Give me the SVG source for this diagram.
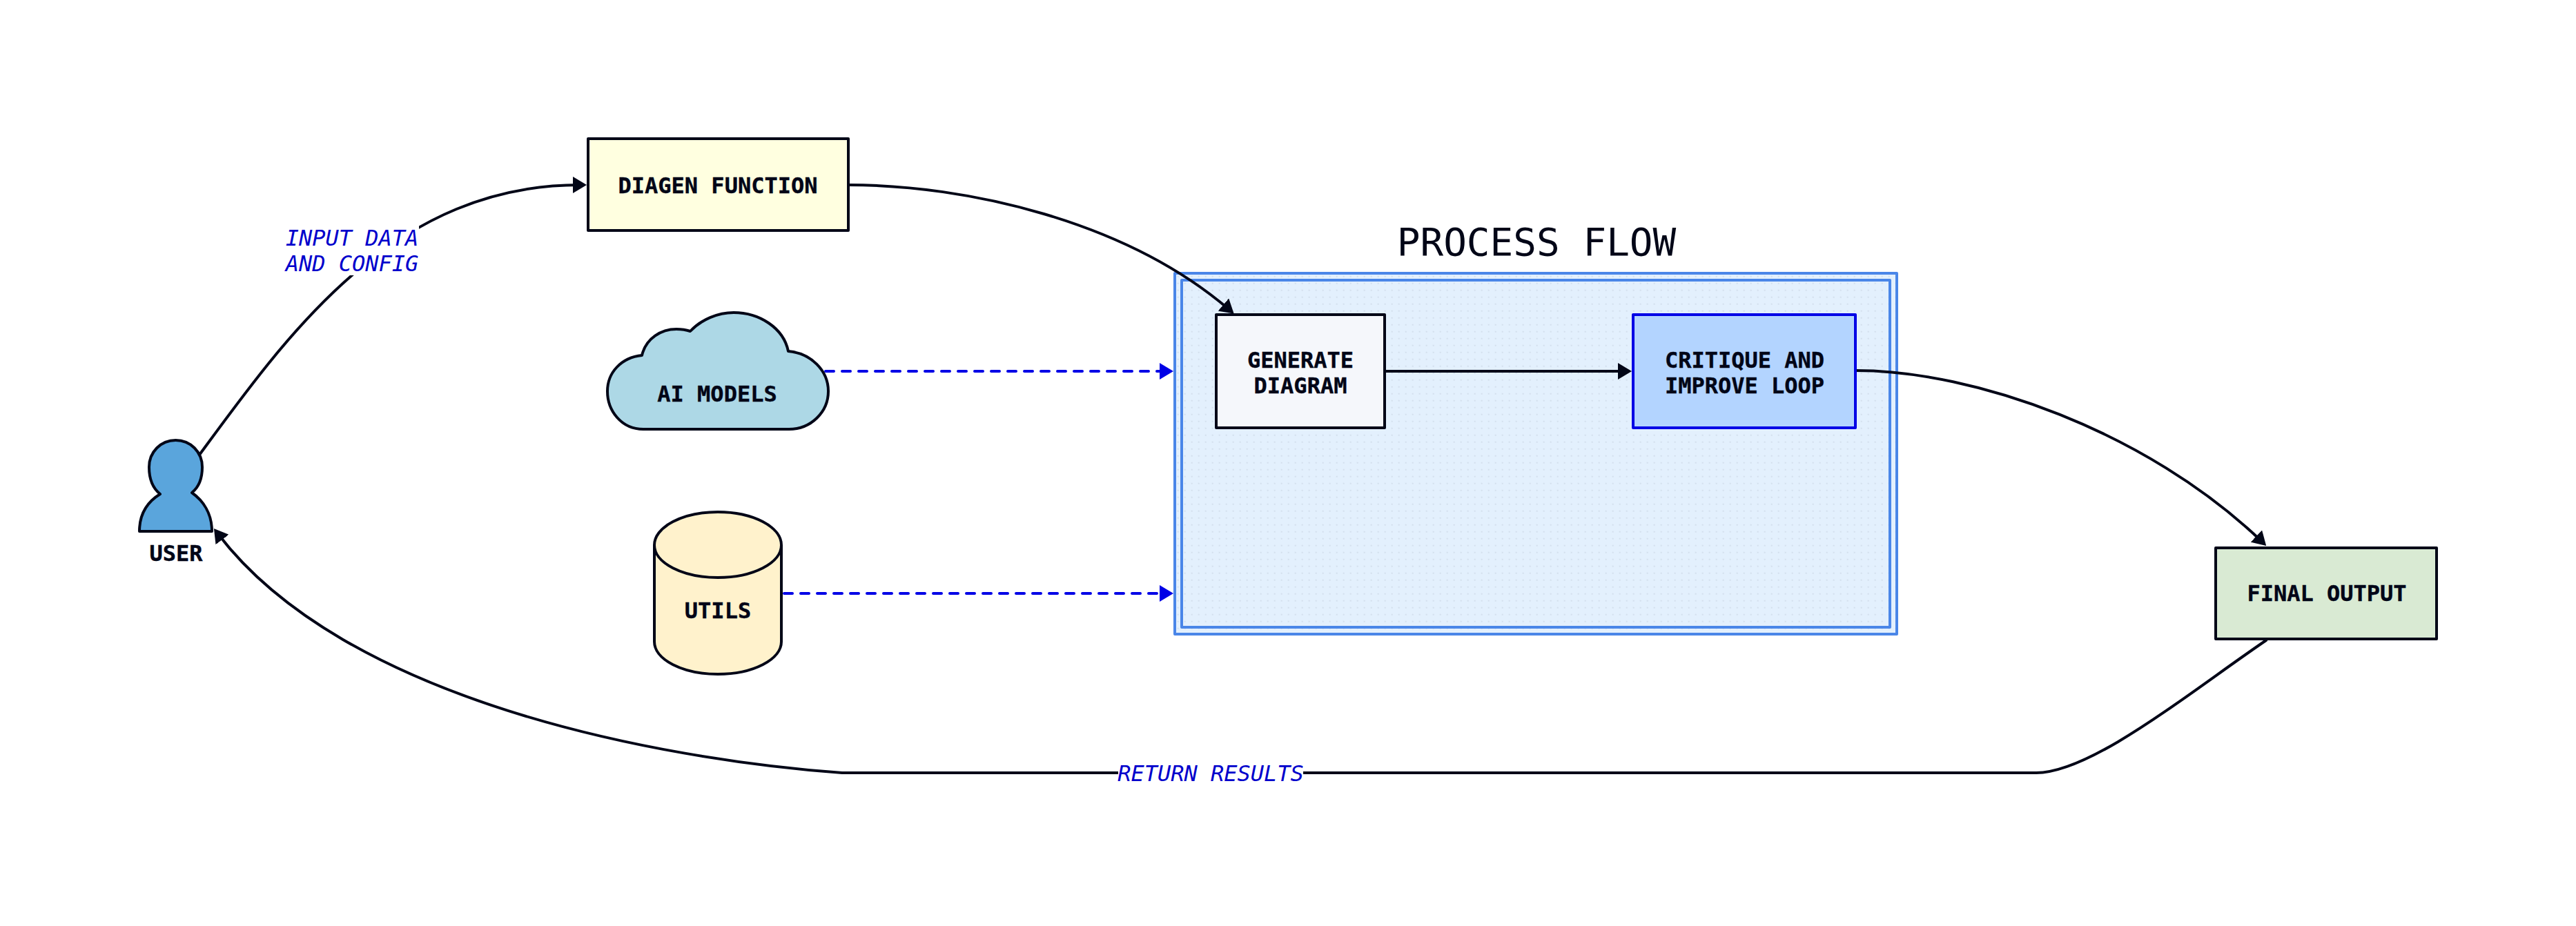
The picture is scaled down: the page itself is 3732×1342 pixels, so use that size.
<svg xmlns="http://www.w3.org/2000/svg" width="3732" height="1342" viewBox="0 0 3732 1342">
<style>
.n{stroke:#020617;stroke-width:4;stroke-linejoin:round}
.t{font-family:"DejaVu Sans Mono","Liberation Mono",monospace;font-size:32px;font-weight:700;fill:#020617;stroke:#020617;stroke-width:.4;text-anchor:middle}
.l{font-family:"DejaVu Sans Mono","Liberation Mono",monospace;font-size:32px;font-style:italic;fill:#0000cc;text-anchor:middle}
.c{fill:none;stroke:#020617;stroke-width:4;stroke-linecap:round;marker-end:url(#ah)}
.d{fill:none;stroke:#0000e6;stroke-width:4;stroke-linecap:round;stroke-dasharray:12 12;marker-end:url(#ab)}
.f{fill:url(#dots);stroke:#4a86e8;stroke-width:4;stroke-linejoin:round}
</style>
<defs>
<pattern id="dots" patternUnits="userSpaceOnUse" x="1.7" y="5.700" width="10" height="10">
<rect width="10" height="10" fill="#e3f0fd"/><circle cx="5" cy="5" r="1.1" fill="#d0dcea"/>
</pattern>
<marker id="ah" markerUnits="userSpaceOnUse" viewBox="0 0 20 24" markerWidth="20" markerHeight="24" refX="10" refY="12" orient="auto"><path d="M0 0L20 12L0 24Z" fill="#020617"/></marker>
<marker id="ab" markerUnits="userSpaceOnUse" viewBox="0 0 20 24" markerWidth="20" markerHeight="24" refX="10" refY="12" orient="auto"><path d="M0 0L20 12L0 24Z" fill="#0000e6"/></marker>
</defs>
<rect width="3732" height="1342" fill="#ffffff"/>
<g id="process-flow">
<rect class="f" x="1702" y="396" width="1046" height="523"/>
<rect class="f" x="1712" y="406" width="1026" height="503"/>
<text x="2226" y="370" font-family="DejaVu Sans Mono, Liberation Mono, monospace" font-size="56" fill="#020617" text-anchor="middle">PROCESS FLOW</text>
</g>
<g id="connectors">
<path class="c" d="M289 659C418 483 570 268 840 268"/>
<path class="c" d="M1229 268C1400 268 1630 320 1780 448"/>
<path class="d" d="M1196 538H1690"/>
<path class="d" d="M1136 860H1690"/>
<path class="c" d="M2008 538H2354"/>
<path class="c" d="M2689 537C2860 537 3110 625 3276 784"/>
<path class="c" d="M3283 928C3170 1005 3030 1120 2950 1120L1220 1120C950 1100 500 1015 316 774"/>
<g id="connector-labels">
<rect x="413" y="325" width="194" height="74" fill="#ffffff"/>
<text class="l" x="510" y="356">INPUT DATA</text>
<text class="l" x="510" y="392.500">AND CONFIG</text>
<rect x="1620" y="1103" width="268" height="37" fill="#ffffff"/>
<text class="l" x="1754" y="1132">RETURN RESULTS</text>
</g>
</g>
<g id="user">
<path class="n" fill="#5aa5dc" d="M202 770C202 745 214 727 232 716C222 708 216 694 216 677C216 655 233 638 254.500 638C276 638 293 655 293 677C293 692 288 706 278 714C295 726 307 745 307 770Z"/>
<text class="t" x="255" y="812.500">USER</text>
</g>
<g id="diagen-function">
<rect class="n" fill="#ffffe0" x="852" y="201" width="377" height="133"/>
<text class="t" x="1040" y="279.500">DIAGEN FUNCTION</text>
</g>
<g id="ai-models">
<path class="n" fill="#add8e6" d="M932 622C900 622 880 595 880 567C880 540 900 518 930 515C936 490 958 477 980 477C988 477 994 478 1000 480C1016 463 1040 453 1063 453C1100 453 1135 475 1142 509C1175 512 1200 537 1200 567C1200 597 1175 622 1143 622Z"/>
<text class="t" x="1039" y="581.500">AI MODELS</text>
</g>
<g id="utils">
<path class="n" fill="#fff2cc" d="M948 790A92 48 0 0 1 1132 790V930A92 47 0 0 1 948 930Z"/>
<path class="n" fill="none" d="M948 790A92 47 0 0 0 1132 790"/>
<text class="t" x="1040" y="895.500">UTILS</text>
</g>
<g id="generate-diagram">
<rect class="n" fill="#f5f7fb" x="1762" y="456" width="244" height="164"/>
<text class="t" x="1884" y="532.500">GENERATE</text>
<text class="t" x="1884" y="569.500">DIAGRAM</text>
</g>
<g id="critique-loop">
<rect fill="#b3d4ff" stroke="#0000e6" stroke-width="4" stroke-linejoin="round" x="2366" y="456" width="322" height="164"/>
<text class="t" x="2527.500" y="532.500">CRITIQUE AND</text>
<text class="t" x="2527.500" y="569.500">IMPROVE LOOP</text>
</g>
<g id="final-output">
<rect class="n" fill="#d9ead3" x="3210" y="794" width="320" height="132"/>
<text class="t" x="3371" y="871">FINAL OUTPUT</text>
</g>
</svg>
